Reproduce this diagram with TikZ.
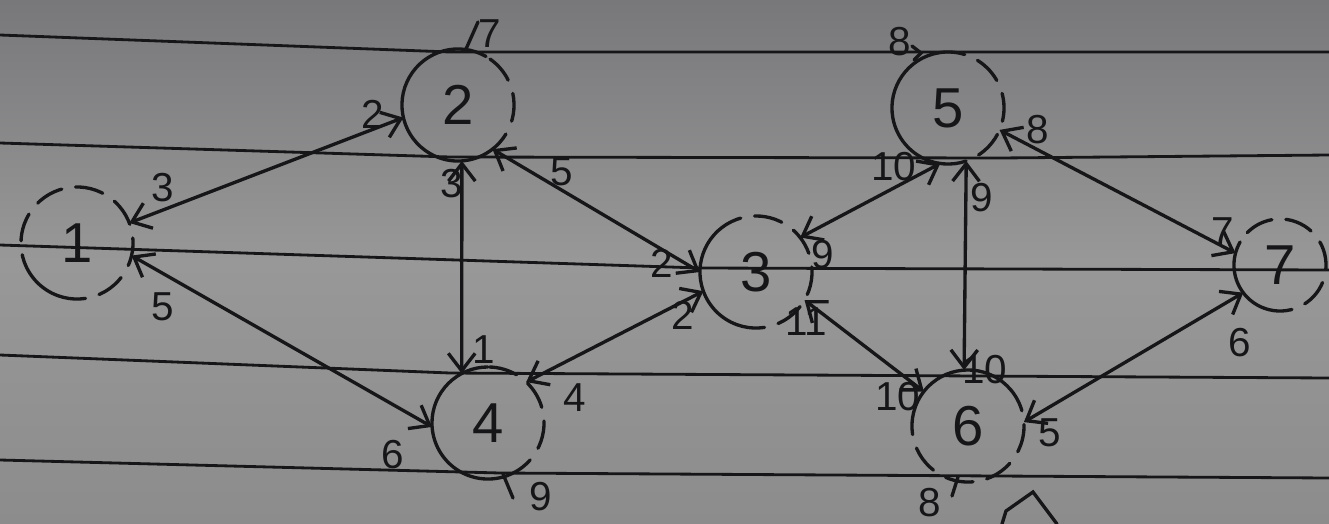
\documentclass[tikz,border=0pt]{standalone}
\usepackage{fontspec}
\setmainfont{Liberation Sans}
\usetikzlibrary{arrows.meta}

\definecolor{paperTop}{RGB}{120,120,123}
\definecolor{paperMid}{RGB}{152,152,152}
\definecolor{paperBot}{RGB}{140,140,140}
\definecolor{ink}{RGB}{22,22,24}

% solid arc from #3 to #4 degrees, dashed for the rest of the ring
\newcommand\ringarcs[4]{%
  \draw[pen] (#1.#3) arc[start angle=#3, end angle=#4, radius=#2];
  \draw[pen, dash pattern=on 8pt off 4pt] (#1.#4) arc[start angle=#4, end angle=#3+360, radius=#2];
}

\tikzset{
  pen/.style={draw=ink, line width=0.95pt, line cap=round},
  ruled/.style={draw=ink, line width=0.8pt},
  vert/.style={circle, minimum size=1.12cm, inner sep=0pt, outer sep=0pt,
               font=\fontsize{16}{16}\selectfont, text=ink},
  smallvert/.style={vert, minimum size=0.92cm},
  link/.style={pen, {Straight Barb[angle=75:2.2mm]}-{Straight Barb[angle=75:2.2mm]}},
  lbl/.style={font=\fontsize{11.5}{11.5}\selectfont, text=ink, inner sep=0pt},
}

\begin{document}
\begin{tikzpicture}[x=0.01cm, y=-0.01cm]
  \useasboundingbox (0,0) rectangle (1329,524);
  \shade[top color=paperTop, bottom color=paperBot, middle color=paperMid]
    (0,0) rectangle (1329,524);

  % ruled lines of the sheet
  \draw[ruled] (0,35) -- (450,52) -- (1329,52);
  \draw[ruled] (0,143) -- (450,157) -- (1000,158) -- (1329,155);
  \draw[ruled] (0,245) -- (700,268) -- (1329,270);
  \draw[ruled] (0,355) -- (450,373) -- (1329,378);
  \draw[ruled] (0,460) -- (500,473) -- (1329,478);

  % vertices
  \node[vert] (n1) at (77,243) {1};
  \node[vert] (n2) at (458,105) {2};
  \node[vert] (n3) at (756,272) {3};
  \node[vert] (n4) at (488,423) {4};
  \node[vert] (n5) at (948,108) {5};
  \node[vert] (n6) at (968,426) {6};
  \node[smallvert] (n7) at (1280,265) {7};

  \ringarcs{n1}{0.56cm}{200}{250}
  \ringarcs{n2}{0.56cm}{60}{300}
  \ringarcs{n3}{0.56cm}{110}{250}
  \ringarcs{n4}{0.56cm}{90}{290}
  \ringarcs{n5}{0.56cm}{100}{260}
  \ringarcs{n6}{0.56cm}{40}{160}
  \ringarcs{n7}{0.46cm}{150}{250}

  % edges
  \draw[link] (n1.21) -- (n2.193);
  \draw[link] (n1.347) -- (n4.184);
  \draw[link] (n2.274) -- (n4.118);
  \draw[link] (n2.308) -- (n3.180);
  \draw[link] (n3.200) -- (n4.47);
  \draw[link] (n3.38) -- (n5.262);
  \draw[link] (n3.330) -- (n6.142);
  \draw[link] (n5.289) -- (n6.94);
  \draw[link] (n5.337) -- (n7.165);
  \draw[link] (n6.4) -- (n7.217);

  % edge end labels
  \node[lbl] (a13) at (163,188) {3};
  \node[lbl] (a15) at (163,307) {5};
  \node[lbl] (a22) at (373,114) {2};
  \node[lbl] (a23) at (452,184) {3};
  \node[lbl] (a25) at (562,172) {5};
  \node[lbl] (a41) at (484,350) {1};
  \node[lbl] (a44) at (575,398) {4};
  \node[lbl] (a46) at (393,455) {6};
  \node[lbl] (a32a) at (662,263) {2};
  \node[lbl] (a32b) at (683,315) {2};
  \node[lbl] (a39) at (823,255) {9};
  \node[lbl] (a311) at (806,322) {11};
  \node[lbl] (a510) at (894,167) {10};
  \node[lbl] (a59) at (982,198) {9};
  \node[lbl] (a58) at (1038,130) {8};
  \node[lbl] (a610a) at (985,370) {10};
  \node[lbl] (a610b) at (898,397) {10};
  \node[lbl] (a65) at (1050,433) {5};
  \node[lbl] (a77) at (1223,232) {7};
  \node[lbl] (a76) at (1240,343) {6};

  % marks on the rings
  \node[lbl] (t2) at (490,34) {7};
  \draw[pen] (n2.82) -- (478,22);
  \node[lbl] (t5) at (900,42) {8};
  \draw[pen] (912,46) -- (921,53) -- (914,60);
  \node[lbl] (t4) at (541,497) {9};
  \draw[pen] (503,474) -- (513,498);
  \node[lbl] (t6) at (930,503) {8};
  \draw[pen] (958,477) -- (952,496);

  % corner of a sketch at the bottom edge
  \draw[pen] (1002,524) -- (1006,511) -- (1033,492) -- (1057,524);
\end{tikzpicture}
\end{document}
